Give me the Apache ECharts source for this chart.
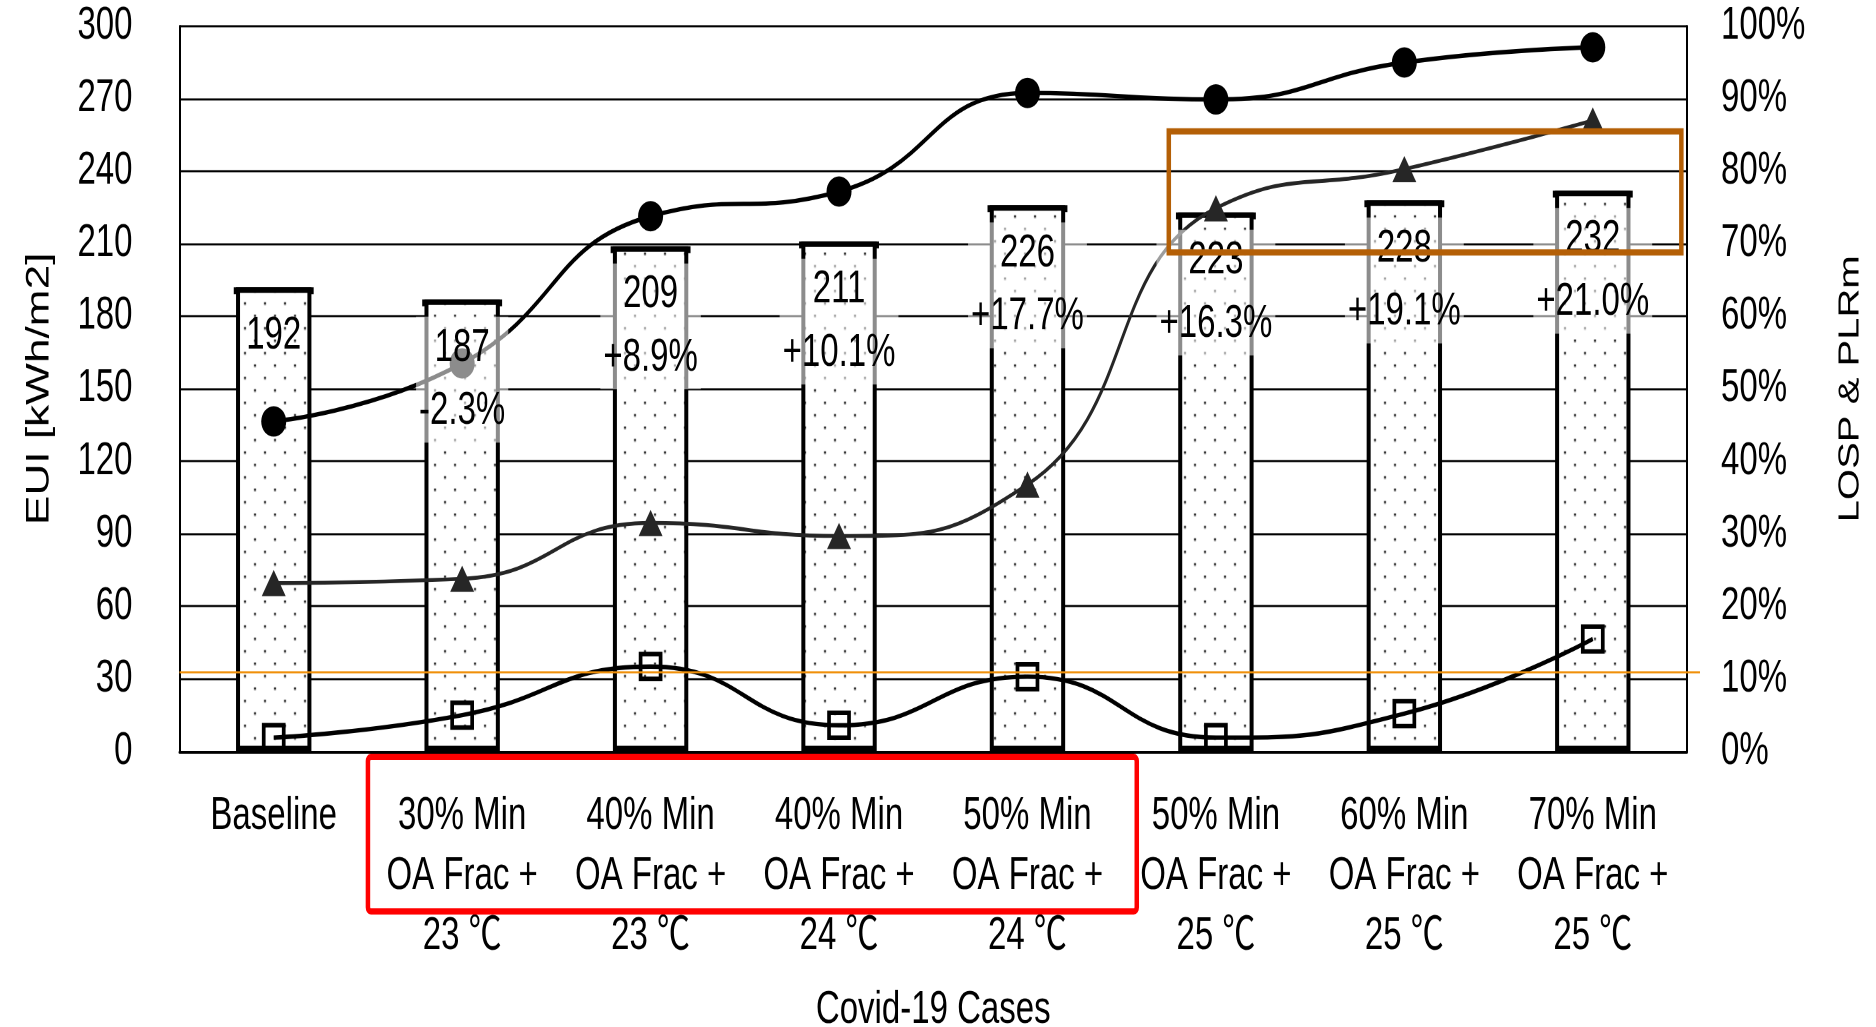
<!DOCTYPE html>
<html>
<head>
<meta charset="utf-8">
<title>EUI and LOSP &amp; PLRm by Covid-19 case</title>
<script src="https://cdn.jsdelivr.net/npm/echarts@6/dist/echarts.min.js"></script>
<style>
  html, body { margin: 0; padding: 0; background: #fff; }
  #frame { width: 1876px; height: 1027px; overflow: hidden; }
  /* the figure is laid out at 744px high and stretched to the full page height */
  #chart { width: 1876px; height: 744px; transform: scaleY(1.3804); transform-origin: 0 0; }
</style>
</head>
<body>
<div id="frame"><div id="chart"></div></div>
<script>
// Case names shown along the category axis
const categories = [
  'Baseline',
  '30% Min\nOA Frac +\n23 ℃',
  '40% Min\nOA Frac +\n23 ℃',
  '40% Min\nOA Frac +\n24 ℃',
  '50% Min\nOA Frac +\n24 ℃',
  '50% Min\nOA Frac +\n25 ℃',
  '60% Min\nOA Frac +\n25 ℃',
  '70% Min\nOA Frac +\n25 ℃'
];

// Energy use intensity per case, kWh/m2 (bars, left axis)
const euiValues = [192, 187, 209, 211, 226, 223, 228, 232];
// Change against the baseline, printed under each bar value
const euiChange = ['', '-2.3%', '+8.9%', '+10.1%', '+17.7%', '+16.3%', '+19.1%', '+21.0%'];

// Percentage series on the right axis
const circleValues = [45.5, 53.5, 73.8, 77.2, 90.8, 89.9, 95.0, 97.1];
const triangleValues = [23.2, 23.8, 31.5, 29.7, 36.8, 74.9, 80.3, 87.0];
const squareValues = [1.9, 5.0, 11.7, 3.6, 10.3, 1.9, 5.2, 15.5];

// Axis ranges
const euiAxis = { min: 0, max: 300, interval: 30 };
const pctAxis = { min: 0, max: 100, interval: 10 };

// Reference threshold and highlighted regions
const thresholdPct = 10.9;
const redBand = { from: 1.0, to: 5.08 };                  // in category bands
const orangeBand = { from: 5.25, to: 7.97, low: 68.8, high: 85.5 };

const FONT = '"Liberation Sans", Arimo, "Noto Sans CJK SC", sans-serif';

// dotted fill for the bars
function dotPattern() {
  const c = document.createElement('canvas');
  c.width = 20; c.height = 18;
  const g = c.getContext('2d');
  g.fillStyle = '#fff';
  g.fillRect(0, 0, 20, 18);
  g.fillStyle = '#000';
  g.fillRect(4, 3, 2, 1.5);
  g.fillRect(14, 12, 2, 1.5);
  return c;
}

const chart = echarts.init(document.getElementById('chart'), null, { renderer: 'canvas', devicePixelRatio: 2 });

const option = {
  backgroundColor: '#fff',
  animation: false,
  grid: { left: 179.5, right: 189, top: 19, bottom: 199.7, containLabel: false, outerBoundsMode: 'none' },
  xAxis: {
    type: 'category',
    data: categories,
    axisLine: { lineStyle: { color: '#000', width: 2 } },
    axisTick: { show: false },
    axisLabel: { color: '#000', fontFamily: FONT, fontSize: 33, lineHeight: 43.5, margin: 25.5, interval: 0 },
    name: 'Covid-19 Cases',
    nameLocation: 'middle',
    nameGap: 171,
    nameTextStyle: { color: '#000', fontFamily: FONT, fontSize: 33 }
  },
  yAxis: [
    {
      type: 'value',
      min: euiAxis.min, max: euiAxis.max, interval: euiAxis.interval,
      axisLine: { show: true, lineStyle: { color: '#000', width: 2 } },
      axisTick: { show: false },
      splitLine: { lineStyle: { color: '#000', width: 1.5 } },
      axisLabel: { color: '#000', fontFamily: FONT, fontSize: 33, margin: 47 },
      name: 'EUI [kWh/m2]',
      nameLocation: 'middle',
      nameGap: 124,
      nameTextStyle: { color: '#000', fontFamily: FONT, fontSize: 32 }
    },
    {
      type: 'value',
      min: pctAxis.min, max: pctAxis.max, interval: pctAxis.interval,
      axisLine: { show: true, lineStyle: { color: '#000', width: 2 } },
      axisTick: { show: false },
      splitLine: { show: false },
      axisLabel: { color: '#000', fontFamily: FONT, fontSize: 33, margin: 34, formatter: '{value}%' },
      name: 'LOSP & PLRm',
      nameLocation: 'middle',
      nameGap: 149,
      nameRotate: 90,
      nameTextStyle: { color: '#000', fontFamily: FONT, fontSize: 29 }
    }
  ],
  series: [
    {
      name: 'EUI',
      type: 'bar',
      data: euiValues,
      barWidth: '40%',
      barGap: '-100%',
      z: 2,
      itemStyle: {
        color: { image: dotPattern(), repeat: 'repeat' },
        borderColor: '#000',
        borderWidth: 4
      }
    },
    {
      // heavy cap on each bar top
      name: 'EUI cap',
      type: 'pictorialBar',
      data: euiValues,
      barWidth: '40%',
      symbol: 'rect',
      symbolPosition: 'end',
      symbolSize: ['106%', 5],
      itemStyle: { color: '#000' },
      z: 2,
      silent: true
    },
    {
      name: 'Circles',
      type: 'line',
      yAxisIndex: 1,
      data: circleValues,
      smooth: true,
      symbol: 'circle',
      symbolSize: [25, 22],
      lineStyle: { color: '#000', width: 3.2 },
      itemStyle: { color: '#000' },
      z: 3
    },
    {
      name: 'Triangles',
      type: 'line',
      yAxisIndex: 1,
      data: triangleValues,
      smooth: true,
      symbol: 'triangle',
      symbolSize: [24, 19],
      lineStyle: { color: '#262626', width: 2.8 },
      itemStyle: { color: '#262626' },
      z: 3
    },
    {
      name: 'Squares',
      type: 'line',
      yAxisIndex: 1,
      data: squareValues,
      smooth: true,
      symbol: 'rect',
      symbolSize: [20, 18],
      lineStyle: { color: '#000', width: 3.2 },
      itemStyle: { color: 'rgba(255,255,255,0)', borderColor: '#000', borderWidth: 3.5 },
      z: 3
    },
    {
      // value labels, drawn above the lines
      name: 'EUI labels',
      type: 'bar',
      data: euiValues.map((v, i) => ({
        value: v,
        label: { backgroundColor: euiChange[i] ? 'rgba(255,255,255,0.55)' : 'transparent' }
      })),
      barWidth: '40%',
      barGap: '-100%',
      itemStyle: { color: 'rgba(0,0,0,0)' },
      z: 5,
      silent: true,
      label: {
        show: true,
        position: 'insideTop',
        distance: 12.5,
        color: '#000',
        fontFamily: FONT,
        fontSize: 33,
        lineHeight: 45.6,
        padding: [0, 3],
        formatter: p => euiChange[p.dataIndex] ? p.value + '\n' + euiChange[p.dataIndex] : String(p.value)
      }
    }
  ]
};

chart.setOption(option);

// Annotation overlays positioned from the axes
function drawAnnotations() {
  const c0 = chart.convertToPixel({ xAxisIndex: 0 }, 0);
  const c1 = chart.convertToPixel({ xAxisIndex: 0 }, 1);
  const bw = c1 - c0;
  const bandX = b => c0 - bw / 2 + b * bw;
  const pctY = v => chart.convertToPixel({ yAxisIndex: 1 }, v);
  const axisY = pctY(0);
  const gridRight = bandX(categories.length);
  const gridLeft = bandX(0);

  chart.setOption({
    graphic: [
      {
        type: 'line', z: 100, silent: true,
        shape: { x1: gridLeft, y1: pctY(thresholdPct), x2: gridRight + 13, y2: pctY(thresholdPct) },
        style: { stroke: '#F0900A', lineWidth: 1.5 }
      },
      {
        type: 'rect', z: 100, silent: true,
        shape: {
          x: bandX(orangeBand.from), y: pctY(orangeBand.high),
          width: bandX(orangeBand.to) - bandX(orangeBand.from),
          height: pctY(orangeBand.low) - pctY(orangeBand.high)
        },
        style: { fill: 'none', stroke: '#B45F06', lineWidth: 4.5 }
      },
      {
        type: 'rect', z: 100, silent: true,
        shape: {
          x: bandX(redBand.from), y: axisY + 4,
          width: bandX(redBand.to) - bandX(redBand.from),
          height: 112, r: 3
        },
        style: { fill: 'none', stroke: '#FF0000', lineWidth: 4.5 }
      }
    ]
  });
}
drawAnnotations();
</script>
</body>
</html>
